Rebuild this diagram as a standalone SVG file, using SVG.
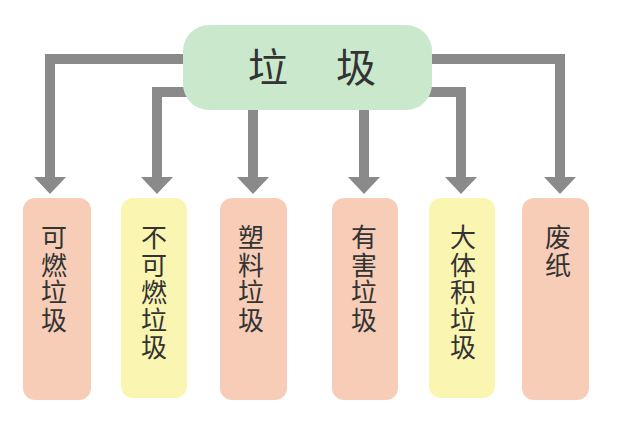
<svg xmlns="http://www.w3.org/2000/svg" width="640" height="429" viewBox="0 0 640 429">
<style>
.c{fill:none;stroke:#8a8a8a;stroke-width:10;stroke-linejoin:miter}
.h{fill:#8a8a8a}
.p{fill:#f7cdb8}
.y{fill:#fbf5b2}
.t{font-family:"Noto Sans CJK SC","Noto Sans CJK JP",sans-serif;fill:#333;text-anchor:middle}
.s{font-size:26px}
</style>
<rect width="640" height="429" fill="#fff"/>
<g id="connectors">
<path class="c" d="M190 59 H50 V180"/>
<path class="c" d="M190 92 H157 V180"/>
<path class="c" d="M253 108 V180"/>
<path class="c" d="M364 108 V180"/>
<path class="c" d="M425 92 H461 V180"/>
<path class="c" d="M425 59 H560 V180"/>
<polygon class="h" points="34,177 66,177 50,194"/>
<polygon class="h" points="141,177 173,177 157,194"/>
<polygon class="h" points="237,177 269,177 253,194"/>
<polygon class="h" points="348,177 380,177 364,194"/>
<polygon class="h" points="445,177 477,177 461,194"/>
<polygon class="h" points="544,177 576,177 560,194"/>
</g>
<g id="root">
<rect x="183" y="25" width="249" height="85" rx="26" fill="#c9e8cc"/>
<text class="t" x="268" y="82" font-size="40">垃</text>
<text class="t" x="356" y="82" font-size="40">圾</text>
</g>
<g id="n1">
<rect class="p" x="23" y="198" width="68" height="202" rx="12"/>
<text class="t s" x="54"><tspan x="54" y="247">可</tspan><tspan x="54" y="274.5">燃</tspan><tspan x="54" y="302">垃</tspan><tspan x="54" y="329.5">圾</tspan></text>
</g>
<g id="n2">
<rect class="y" x="121" y="198" width="66" height="200" rx="12"/>
<text class="t s" x="154"><tspan x="154" y="247">不</tspan><tspan x="154" y="274.5">可</tspan><tspan x="154" y="302">燃</tspan><tspan x="154" y="329.5">垃</tspan><tspan x="154" y="357">圾</tspan></text>
</g>
<g id="n3">
<rect class="p" x="220" y="198" width="67" height="202" rx="12"/>
<text class="t s" x="251"><tspan x="251" y="247">塑</tspan><tspan x="251" y="274.5">料</tspan><tspan x="251" y="302">垃</tspan><tspan x="251" y="329.5">圾</tspan></text>
</g>
<g id="n4">
<rect class="p" x="332" y="198" width="66" height="202" rx="12"/>
<text class="t s" x="364"><tspan x="364" y="247">有</tspan><tspan x="364" y="274.5">害</tspan><tspan x="364" y="302">垃</tspan><tspan x="364" y="329.5">圾</tspan></text>
</g>
<g id="n5">
<rect class="y" x="429" y="198" width="66" height="200" rx="12"/>
<text class="t s" x="463"><tspan x="463" y="247">大</tspan><tspan x="463" y="274.5">体</tspan><tspan x="463" y="302">积</tspan><tspan x="463" y="329.5">垃</tspan><tspan x="463" y="357">圾</tspan></text>
</g>
<g id="n6">
<rect class="p" x="522" y="198" width="67" height="202" rx="12"/>
<text class="t s" x="558"><tspan x="558" y="247">废</tspan><tspan x="558" y="274.5">纸</tspan></text>
</g>
</svg>
